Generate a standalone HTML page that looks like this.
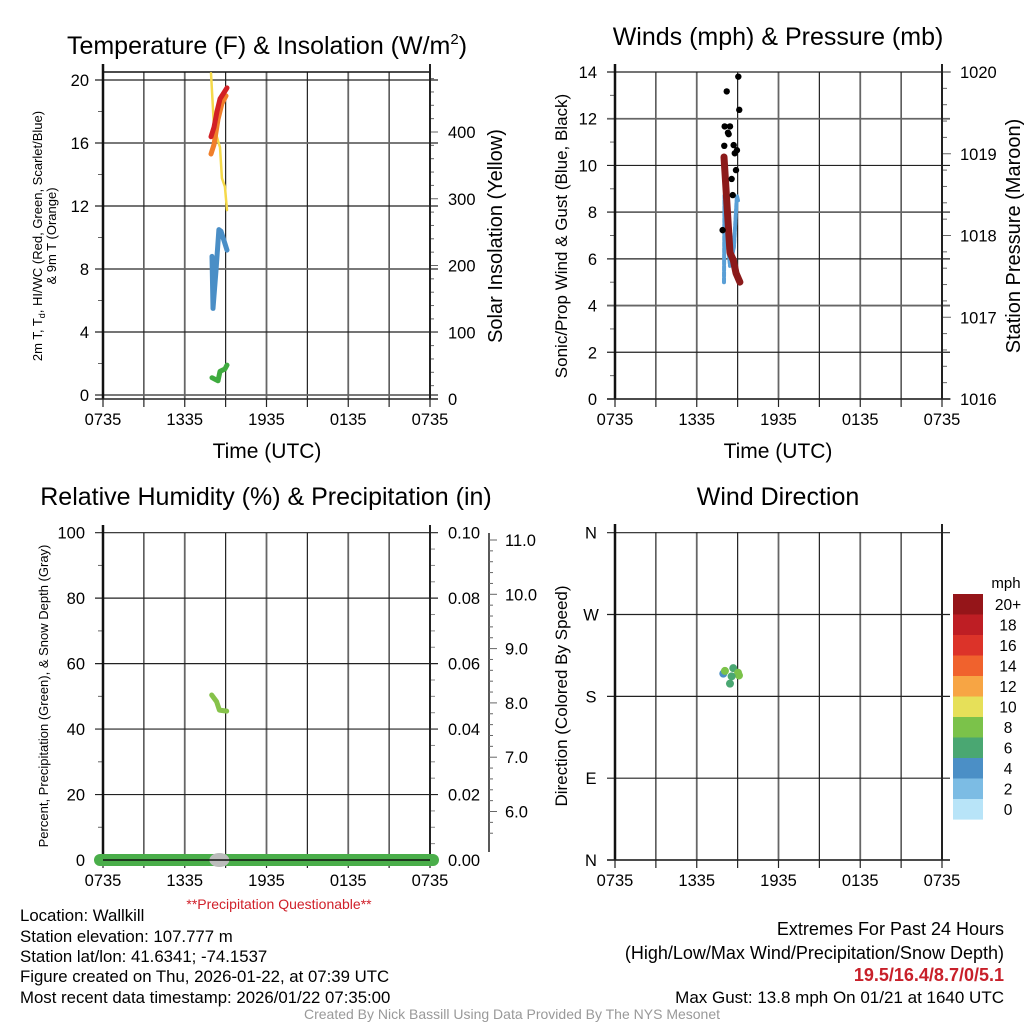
<!DOCTYPE html>
<html><head><meta charset="utf-8"><style>
html,body{margin:0;padding:0;background:#fff;}
svg{display:block;font-family:"Liberation Sans",Arial,sans-serif;}
</style></head><body>
<svg id="s" width="1024" height="1024" viewBox="0 0 1024 1024">
<text x="267" y="54" font-size="25" text-anchor="middle">Temperature (F) &amp; Insolation (W/m<tspan font-size="15" dy="-10">2</tspan><tspan dy="10">)</tspan></text>
<text x="778" y="45" font-size="25" text-anchor="middle">Winds (mph) &amp; Pressure (mb)</text>
<text x="266" y="505" font-size="25" text-anchor="middle">Relative Humidity (%) &amp; Precipitation (in)</text>
<text x="778" y="505" font-size="25" text-anchor="middle">Wind Direction</text>
<text x="267" y="458" font-size="21" text-anchor="middle">Time (UTC)</text>
<text x="778" y="458" font-size="21" text-anchor="middle">Time (UTC)</text>
<text transform="translate(42,236) rotate(-90)" font-size="13" text-anchor="middle">2m T, T<tspan font-size="9" dy="3">d</tspan><tspan dy="-3">, HI/WC (Red, Green, Scarlet/Blue)</tspan></text>
<text transform="translate(56,236) rotate(-90)" font-size="13" text-anchor="middle">&amp; 9m T (Orange)</text>
<text transform="translate(502,236) rotate(-90)" font-size="20" text-anchor="middle">Solar Insolation (Yellow)</text>
<text transform="translate(567,236) rotate(-90)" font-size="17" text-anchor="middle">Sonic/Prop Wind &amp; Gust (Blue, Black)</text>
<text transform="translate(1020,236) rotate(-90)" font-size="20" text-anchor="middle">Station Pressure (Maroon)</text>
<text transform="translate(48,696) rotate(-90)" font-size="13" text-anchor="middle">Percent, Precipitation (Green), &amp; Snow Depth (Gray)</text>
<text transform="translate(567,696) rotate(-90)" font-size="17" text-anchor="middle">Direction (Colored By Speed)</text>
<text x="279" y="909" font-size="14" fill="#d0202a" text-anchor="middle">**Precipitation Questionable**</text>
<g font-size="16.8">
<text x="20" y="921">Location: Wallkill</text>
<text x="20" y="942">Station elevation: 107.777 m</text>
<text x="20" y="962">Station lat/lon: 41.6341; -74.1537</text>
<text x="20" y="982">Figure created on Thu, 2026-01-22, at 07:39 UTC</text>
<text x="20" y="1003">Most recent data timestamp: 2026/01/22 07:35:00</text>
</g>
<g text-anchor="end">
<text x="1004" y="935" font-size="18">Extremes For Past 24 Hours</text>
<text x="1004" y="959" font-size="18">(High/Low/Max Wind/Precipitation/Snow Depth)</text>
<text x="1004" y="981" font-size="18" fill="#c8202a" font-weight="bold">19.5/16.4/8.7/0/5.1</text>
<text x="1004" y="1003" font-size="17">Max Gust: 13.8 mph On 01/21 at 1640 UTC</text>
</g>
<text x="512" y="1019" font-size="14" fill="#999" text-anchor="middle">Created By Nick Bassill Using Data Provided By The NYS Mesonet</text>
</svg>
<script>
// ---- data (hours since 07:35 UTC) ----
const xTickLabels = ["0735","1335","1935","0135","0735"];
const tRed = [7.93,8.15,8.37,8.59,8.88,9.10];
const vRed = [16.4,17.0,18.0,18.8,19.2,19.5];
const tOrange = [7.93,8.15,8.44,8.73,9.03];
const vOrange = [15.3,15.9,17.5,18.5,19.0];
const tYellow = [7.93,8.15,8.59,8.73,8.95,9.10];
const vYellow = [488,407,377,331,318,283];
const tBlue = [8.0,8.07,8.29,8.51,8.66,8.88,9.10];
const vBlue = [8.8,5.5,7.9,10.5,10.4,9.8,9.2];
const tGreen = [8.0,8.44,8.59,8.95,9.10];
const vGreen = [1.1,0.9,1.5,1.65,1.9];
const tWind = [8.0,8.04,8.22,8.44,8.73,8.95,9.03];
const vWind = [5.0,8.7,7.0,5.7,6.5,8.7,8.5];
const tPres = [8.0,8.44,8.68,8.88,9.17];
const vPres = [1018.96,1017.79,1017.70,1017.54,1017.43];
const tGust = [9.05,8.2,9.12,8.05,8.44,8.29,8.34,8.02,8.71,8.79,8.95,8.88,8.56,8.64,7.9];
const vGust = [13.8,13.17,12.38,11.67,11.67,11.4,11.34,10.84,10.87,10.52,10.65,9.8,9.42,8.73,7.23];
const tRH = [7.98,8.34,8.54,9.08];
const vRH = [50.4,48.4,45.8,45.5];
const tDir = [7.95,8.07,8.68,8.44,9.03,9.10,8.56];
const vDir = [205,208,211,194,206,203,202];
const sDir = [5,8.5,7,7,8.5,9,6.5];
const cbLabels = ["20+","18","16","14","12","10","8","6","4","2","0"];
const cbColors = ["#951519","#be1e24","#dc3329","#f0622d","#f7a544","#e6e059","#7bc24a","#4aa772","#4b8fc6","#7cbce4","#b8e4f8"];

const NS="http://www.w3.org/2000/svg", S=document.getElementById('s');
function mk(tag,a,parent){const e=document.createElementNS(NS,tag);for(const k in a)e.setAttribute(k,a[k]);(parent||S).appendChild(e);return e;}
function line(x1,y1,x2,y2,c,w){return mk('line',{x1,y1,x2,y2,stroke:c,'stroke-width':w});}
function txt(x,y,s,anchor,size){const e=mk('text',{x,y,'text-anchor':anchor,'font-size':size});e.textContent=s;return e;}

function panel(x0,x1,yTop,yBot,name){
  const X=t=>x0+t/24*(x1-x0);
  for(let i=1;i<8;i++){const g=line(X(i*3),yTop,X(i*3),yBot,i%2?'#222':'#666',i%2?1.2:1.8);
    
    }
  for(let i=0;i<=8;i++){const tk=line(X(i*3),yBot,X(i*3),yBot+8,'#222',1.2);
    
    }
  xTickLabels.forEach((s,i)=>{const e=txt(X(i*6),yBot+26,s,'middle',16.5);
    
    });
  return X;
}
function hgrid(x0,x1,y,name,major){const g=line(x0-8,y,x1+8,y,major?'#222':'#666',major?1.2:1.8);
  
  }
function frame(x0,x1,yTop,yBot,name){
  const l=line(x0,yTop-8,x0,yBot,'#111',2.5);
  
  
  const r=line(x1,yTop-8,x1,yBot,'#222',2);
  
  
  const b=line(x0-8,yBot,x1+8,yBot,'#222',1.5);
  
  
}
function path(X,Y,ts,vs,c,w,name,dash){let d='';ts.forEach((t,i)=>{d+=(i?'L':'M')+X(t).toFixed(1)+','+Y(vs[i]).toFixed(1);});
  const p=mk('path',{d,fill:'none',stroke:c,'stroke-width':w,'stroke-linecap':'round','stroke-linejoin':'round'});
  if(dash)p.setAttribute('stroke-dasharray',dash);
  
  }

// ===== Temperature panel =====
{const x0=103,x1=430,yT=72,yB=399;
 const X=panel(x0,x1,yT,yB,'temp');
 const Y=v=>395-v*15.75, YI=v=>399-v*0.6675;
 [0,4,8,12,16,20].forEach((v,i)=>{hgrid(x0,x1,Y(v),'temp-hgrid',i%2==1||v==20);
   const e=txt(x0-14,Y(v)+6,String(v),'end',16.5);
   
   });
 for(let v=2;v<20;v+=4){const m=line(x0-5,Y(v),x0,Y(v),'#666',1);
   
   }
 const tf=line(x0,yT,x1,yT,'#111',1.5);
 
 
 for(let v=0;v<=480;v+=20){const m=line(x1,YI(v),x1+(v%100?4:8),YI(v),'#666',1);
   
   }
 [0,100,200,300,400].forEach(v=>{const e=txt(x1+18,YI(v)+6,String(v),'start',16.5);
   
   });
 frame(x0,x1,yT,yB,'temp');
 path(X,YI,tYellow,vYellow,'#f5d94a',2.5,'insolation-line');
 path(X,Y,tOrange,vOrange,'#f07f2a',5,'temp-9m-line');
 path(X,Y,tRed,vRed,'#d22025',5,'temp-2m-line');
 path(X,Y,tBlue,vBlue,'#4a8ec6',5,'windchill-line');
 path(X,Y,tGreen,vGreen,'#3fab3f',5,'dewpoint-line');
}
// ===== Wind panel =====
{const x0=615,x1=942,yT=72,yB=399;
 const X=panel(x0,x1,yT,yB,'wind');
 const Y=v=>399-v*23.357, YP=p=>72+(1020-p)*81.75;
 for(let v=0;v<=14;v+=2){hgrid(x0,x1,Y(v),'wind-hgrid',v%4!=0||v==0);
   const e=txt(x0-18,Y(v)+6,String(v),'end',16.5);
   
   }
 for(let v=1;v<14;v+=2){const m=line(x0-5,Y(v),x0,Y(v),'#666',1);
   
   }
 for(let i=0;i<=20;i++){const p=1016+i*0.2;const m=line(x1,YP(p),x1+(i%5?5:9),YP(p),'#666',1);
   
   }
 [1016,1017,1018,1019,1020].forEach(p=>{const e=txt(x1+18,YP(p)+6,String(p),'start',16.5);
   
   });
 frame(x0,x1,yT,yB,'wind');
 path(X,Y,tWind,vWind,'#5a9fd6',4,'sonic-wind-line','4,2');
 path(X,YP,tPres,vPres,'#8b1a1a',7,'pressure-line');
 tGust.forEach((t,i)=>{const c=mk('circle',{cx:X(t),cy:Y(vGust[i]),r:3.2,fill:'#000'});
   
   });
}
// ===== RH panel =====
{const x0=103,x1=430,yT=533,yB=860;
 const X=panel(x0,x1,yT,yB,'rh');
 const Y=v=>860-v*3.273, YS=v=>540+(11-v)*54.3;
 for(let v=0;v<=100;v+=20){hgrid(x0,x1,Y(v),'rh-hgrid',v%40==0?true:v==100||v==60||v==20);
   const e=txt(x0-18,Y(v)+6,String(v),'end',16.5);
   
   
   const r=txt(x1+18,Y(v)+6,(v/1000).toFixed(2),'start',16.5);
   
   }
 for(let v=10;v<100;v+=20){const m=line(x0-5,Y(v),x0,Y(v),'#666',1);
   
   }
 for(let v=5;v<100;v+=5){if(v%20==0)continue;const m=line(x1,Y(v),x1+5,Y(v),'#888',1);
   
   }
 const sa=line(489,533,489,852,'#222',1.5);
 
 
 for(let i=0;i<=27;i++){const v=5.6+i*0.2;const m=line(489,YS(v),489+(Math.abs(v-Math.round(v))<0.01?8:4),YS(v),'#666',1);
   
   }
 [6,7,8,9,10,11].forEach(v=>{const e=txt(505,YS(v)+6,v.toFixed(1),'start',16.5);
   
   });
 frame(x0,x1,yT,yB,'rh');
 const pl=line(x0-3,yB,x1+3,yB,'#4aae4a',12);
 pl.setAttribute('stroke-linecap','round');
 
 
 const sn=mk('ellipse',{cx:X(8.54),cy:yB,rx:10,ry:7,fill:'#bbb'});
 
 
 const bl=line(x0,yB,x1,yB,'#111',1.5);
 
 
 path(X,Y,tRH,vRH,'#86c24a',5,'rh-line');
}
// ===== Wind direction panel =====
{const x0=615,x1=942,yT=532,yB=860;
 const X=panel(x0,x1,yT,yB,'dir');
 const Y=d=>860-d/360*327.3;
 ["N","E","S","W","N"].forEach((s,i)=>{hgrid(x0,x1,Y(i*90),'dir-hgrid',true);
   const e=txt(x0-24,Y(i*90)+6,s,'middle',16.5);
   
   });
 frame(x0,x1,yT,yB,'dir');
 tDir.forEach((t,i)=>{const idx=10-Math.min(10,Math.floor(sDir[i]/2));
   const c=mk('circle',{cx:X(t),cy:Y(vDir[i]),r:4,fill:cbColors[idx]});
   
   });
 const mph=txt(1006,588,'mph','middle',15);
 
 
 cbColors.forEach((c,i)=>{const r=mk('rect',{x:953,y:594+i*20.5,width:30,height:20.6,fill:c});
   
   
   const e=txt(1008,594+i*20.5+16,cbLabels[i],'middle',15.5);
   
   });
}
</script>
</body></html>
